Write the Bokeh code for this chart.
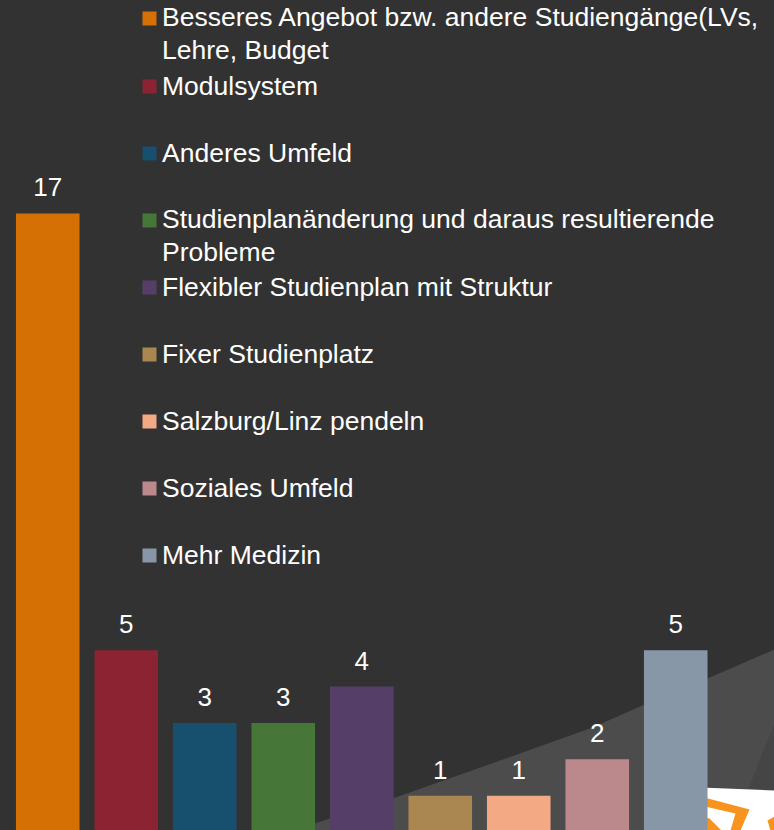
from bokeh.core.properties import value
from bokeh.embed import file_html
from bokeh.models import ColumnDataSource, GlobalInlineStyleSheet, Range1d
from bokeh.plotting import figure
from bokeh.resources import INLINE

categories = ["Besseres Angebot bzw. andere Studiengänge(LVs,\nLehre, Budget", "Modulsystem", "Anderes Umfeld",
              "Studienplanänderung und daraus resultierende\nProbleme", "Flexibler Studienplan mit Struktur",
              "Fixer Studienplatz", "Salzburg/Linz pendeln", "Soziales Umfeld", "Mehr Medizin"]
counts = [17, 5, 3, 3, 4, 1, 1, 2, 5]
colors = ["#D57004", "#8B2332", "#174F6E", "#467638", "#553F69", "#AA8650", "#F4A985", "#BB888C", "#8797A8"]
legend_y_px = [18, 86, 153, 220, 287, 354, 421, 488, 555]

FONT = "Liberation Sans"
LINE_PX = 32
positions = list(range(len(counts)))
# two-line labels hang from the swatch, so their block centre sits half a line lower
label_y_px = [y - 1 + (LINE_PX / 2 if "\n" in c else 0) for y, c in zip(legend_y_px, categories)]

p = figure(width=774, height=830, output_backend="svg", toolbar_location=None,
           x_range=Range1d(-0.602, 9.258), y_range=Range1d(0.045, 22.849),
           min_border=0, background_fill_color="#323232", border_fill_color="#323232")
p.axis.visible = False
p.grid.visible = False
p.outline_line_color = None
p.stylesheets = [GlobalInlineStyleSheet(css="html,body{margin:0;padding:0;background:#323232;overflow:hidden}")]

# pixel-space range for the decorative backdrop and the legend block
p.extra_x_ranges = {"px": Range1d(0, 774)}
p.extra_y_ranges = {"px": Range1d(830, 0)}


def backdrop(xs, ys, color):
    p.patch(xs, ys, x_range_name="px", y_range_name="px", fill_color=color, line_color=None)


# lighter sweep, its darker facet, and the clipped logo in the corner
backdrop([300, 314, 395, 494, 592, 644, 707, 774, 774, 300], [830, 823, 797, 762, 727, 704, 678, 649, 830, 830], "#4C4C4C")
backdrop([748, 774, 774], [788, 723, 790], "#454545")
backdrop([700, 774, 774, 700], [787, 790, 830, 830], "#FFFFFF")
backdrop([700, 749, 740, 730, 735, 700], [796, 809, 830, 830, 813, 805], "#F7931E")
backdrop([700, 709, 721, 700], [816, 818, 830, 830], "#F7931E")
backdrop([767, 774, 774, 770], [820, 816, 830, 830], "#F7931E")

src = ColumnDataSource(dict(x=positions, top=counts, color=colors, label=[str(c) for c in counts]))
p.vbar(x="x", top="top", bottom=0, width=0.81, fill_color="color", line_color=None, source=src)
p.text(x="x", y="top", text="label", source=src, text_color="#FFFFFF", text_font=value(FONT),
       text_font_size="26px", text_align="center", text_baseline="bottom", y_offset=-17)

leg = ColumnDataSource(dict(y=legend_y_px, ly=label_y_px, color=colors, label=categories))
p.rect(x=149, y="y", width=14, height=14, source=leg, fill_color="color", line_color=None,
       x_range_name="px", y_range_name="px")
p.text(x=161.5, y="ly", text="label", source=leg, text_color="#FFFFFF", text_font=value(FONT),
       text_font_size="26.5px", text_align="left", text_baseline="middle", text_line_height=1.07,
       x_range_name="px", y_range_name="px")

open("out.html", "w").write(file_html(p, INLINE))
